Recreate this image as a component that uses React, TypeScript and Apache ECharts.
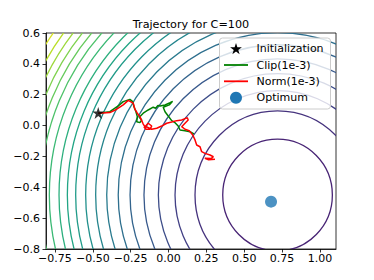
import React, { useEffect, useRef } from "react";
import * as echarts from "echarts";

const chartTitle = "Trajectory for C=100";
const xTicks = [-0.75, -0.5, -0.25, 0, 0.25, 0.5, 0.75, 1.0];
const yTicks = [-0.8, -0.6, -0.4, -0.2, 0, 0.2, 0.4, 0.6];
const xRange = [-0.809, 1.106];
const yRange = [-0.8, 0.6];

const contourCenter = [0.72, -0.45];
const contourRadii = [
  0.362, 0.545, 0.677, 0.787, 0.882, 0.974, 1.052, 1.128, 1.201, 1.267,
  1.333, 1.388, 1.443, 1.507, 1.565, 1.615, 1.662, 1.71, 1.76, 1.815,
];

const initialization = [[-0.464, 0.082]];
const optimum = [[0.677, -0.493]];

const clipPath = [
  [-0.464, 0.08], [-0.387, 0.09], [-0.332, 0.127], [-0.299, 0.155], [-0.255, 0.17],
  [-0.237, 0.155], [-0.228, 0.122], [-0.215, 0.09], [-0.206, 0.058], [-0.21, 0.025],
  [-0.189, 0.019], [-0.177, 0.036], [-0.193, 0.054], [-0.167, 0.08], [-0.134, 0.101],
  [-0.101, 0.119], [-0.085, 0.112], [-0.07, 0.13], [-0.056, 0.127], [-0.023, 0.134],
  [0.01, 0.148], [0.027, 0.157], [0.005, 0.134], [-0.035, 0.119], [-0.023, 0.09],
  [-0.002, 0.062], [0.021, 0.032], [0.043, 0.019], [0.064, -0.003], [0.076, -0.029],
  [0.109, -0.033], [0.142, -0.04], [0.168, -0.054],
];

const normPath = [
  [-0.464, 0.08], [-0.387, 0.084], [-0.342, 0.106], [-0.299, 0.134], [-0.266, 0.163],
  [-0.233, 0.145], [-0.222, 0.106], [-0.206, 0.08], [-0.189, 0.058], [-0.177, 0.032],
  [-0.167, 0.01], [-0.156, -0.007], [-0.134, 0.015], [-0.111, -0.003], [-0.123, -0.024],
  [-0.149, -0.024], [-0.162, -0.009], [-0.14, -0.01], [-0.111, -0.024], [-0.078, -0.017],
  [-0.045, -0.003], [-0.012, 0.015], [0.021, 0.023], [0.054, 0.032], [0.087, 0.036],
  [0.109, 0.045], [0.124, 0.051], [0.13, 0.036], [0.109, 0.015], [0.087, -0.007],
  [0.109, -0.024], [0.137, -0.033], [0.16, -0.061], [0.175, -0.093], [0.186, -0.126],
  [0.208, -0.137], [0.219, -0.169], [0.241, -0.18], [0.274, -0.191], [0.296, -0.202],
  [0.283, -0.213], [0.24, -0.212], [0.265, -0.222], [0.307, -0.218],
];

const legendLabels = ["Initialization", "Clip(1e-3)", "Norm(1e-3)", "Optimum"];

const FONT = "DejaVu Sans";
const viridisStops = [
  "#440154", "#482475", "#414487", "#355f8d", "#2a788e", "#21918c",
  "#22a884", "#44bf70", "#7ad151", "#bddf26", "#fde725",
];
function hexToRgb(h: string) {
  return [parseInt(h.slice(1, 3), 16), parseInt(h.slice(3, 5), 16), parseInt(h.slice(5, 7), 16)];
}
function viridis(t: number) {
  const tt = Math.max(0, Math.min(1, t)) * (viridisStops.length - 1);
  const i = Math.min(Math.floor(tt), viridisStops.length - 2);
  const f = tt - i;
  const a = hexToRgb(viridisStops[i]);
  const b = hexToRgb(viridisStops[i + 1]);
  const c = a.map((v, k) => Math.round(v + (b[k] - v) * f));
  return `rgb(${c[0]},${c[1]},${c[2]})`;
}
function fmt(v: number, d: number) {
  const s = Math.abs(v) < 1e-9 ? (0).toFixed(d) : v.toFixed(d);
  return s.replace("-", "\u2212");
}

const STAR_PATH =
  "path://M0,-1L0.2245,-0.309L0.951,-0.309L0.363,0.118L0.588,0.809L0,0.382L-0.588,0.809L-0.363,0.118L-0.951,-0.309L-0.2245,-0.309Z";

function starPoints(cx: number, cy: number, R: number) {
  const pts: number[][] = [];
  const r = R * 0.382;
  for (let k = 0; k < 10; k++) {
    const ang = -Math.PI / 2 + (k * Math.PI) / 5;
    const rad = k % 2 === 0 ? R : r;
    pts.push([cx + rad * Math.cos(ang), cy + rad * Math.sin(ang)]);
  }
  return pts;
}

export default function App() {
  const ref = useRef<HTMLDivElement>(null);
  useEffect(() => {
    document.body.style.margin = "0";
    const chart = echarts.init(ref.current!, null, { renderer: "svg" });
    const nC = contourRadii.length;
    const axisCommon = {
      type: "value" as const,
      axisLine: { show: true, onZero: false, lineStyle: { color: "#000", width: 0.8 } },
      splitLine: { show: false },
    };
    const legX = 219.5, legY = 38, legW = 111, legH = 71;
    const rowY = [48.7, 65, 81.3, 97.7];
    const handleX = 236;
    const textX = 256.5;
    const option: any = {
      animation: false,
      grid: {
        left: 46, top: 33, width: 290, height: 216,
        show: true, borderColor: "#000", borderWidth: 0.8,
        containLabel: false, outerBoundsMode: "none",
      },
      xAxis: {
        ...axisCommon,
        min: xRange[0], max: xRange[1],
        axisTick: { show: true, customValues: xTicks, length: 3.5, lineStyle: { color: "#000", width: 0.8 } },
        axisLabel: {
          customValues: xTicks, formatter: (v: number) => fmt(v, 2),
          color: "#000", fontSize: 11, fontFamily: FONT, margin: 4,
        },
      },
      yAxis: {
        ...axisCommon,
        min: yRange[0], max: yRange[1],
        axisTick: { show: true, customValues: yTicks, length: 3.5, lineStyle: { color: "#000", width: 0.8 } },
        axisLabel: {
          customValues: yTicks, formatter: (v: number) => fmt(v, 1),
          color: "#000", fontSize: 11, fontFamily: FONT, margin: 6,
        },
      },
      series: [
        {
          type: "custom",
          coordinateSystem: "cartesian2d",
          clip: true,
          silent: true,
          z: 1,
          data: contourRadii.map((r, i) => [contourCenter[0], contourCenter[1], r, i]),
          encode: { x: 0, y: 1 },
          renderItem: (params: any, api: any) => {
            const c = api.coord([api.value(0), api.value(1)]);
            const r = api.value(2);
            const i = api.value(3);
            const s = api.size([r, r]);
            const t = 0.1 + (i * 0.84) / (nC - 1);
            return {
              type: "ellipse",
              shape: { cx: c[0], cy: c[1], rx: s[0], ry: s[1] },
              style: { fill: "none", stroke: viridis(t), lineWidth: 1.3 },
            };
          },
        },
        {
          name: legendLabels[1], type: "line", data: clipPath, showSymbol: false, z: 3,
          lineStyle: { color: "#008000", width: 1.5 }, itemStyle: { color: "#008000" },
        },
        {
          name: legendLabels[2], type: "line", data: normPath, showSymbol: false, z: 4,
          lineStyle: { color: "#ff0000", width: 1.5 }, itemStyle: { color: "#ff0000" },
        },
        {
          name: legendLabels[0], type: "scatter", data: initialization, symbol: STAR_PATH,
          symbolSize: 12, z: 5, itemStyle: { color: "#000" },
        },
        {
          name: legendLabels[3], type: "scatter", data: optimum, symbol: "circle",
          symbolSize: 12, z: 5, itemStyle: { color: "#1f77b4" },
        },
      ],
      graphic: [
        {
          type: "text", z: 100, x: 191, y: 24,
          style: { text: chartTitle, fill: "#000", font: `11.2px ${FONT}`, textAlign: "center", textVerticalAlign: "middle" },
        },
        {
          type: "rect", z: 100,
          shape: { x: legX, y: legY, width: legW, height: legH, r: 3 },
          style: { fill: "rgba(255,255,255,0.8)", stroke: "#cccccc", lineWidth: 1 },
        },
        {
          type: "polygon", z: 101,
          shape: { points: starPoints(handleX, rowY[0] + 0.5, 6.2) },
          style: { fill: "#000" },
        },
        {
          type: "line", z: 101,
          shape: { x1: 224, y1: rowY[1], x2: 248, y2: rowY[1] },
          style: { stroke: "#008000", lineWidth: 1.8 },
        },
        {
          type: "line", z: 101,
          shape: { x1: 224, y1: rowY[2], x2: 248, y2: rowY[2] },
          style: { stroke: "#ff0000", lineWidth: 1.8 },
        },
        {
          type: "circle", z: 101,
          shape: { cx: handleX, cy: rowY[3], r: 6 },
          style: { fill: "#1f77b4" },
        },
        ...legendLabels.map((lab, i) => ({
          type: "text", z: 101, x: textX, y: rowY[i],
          style: { text: lab, fill: "#000", font: `11px ${FONT}`, textAlign: "left", textVerticalAlign: "middle" },
        })),
      ],
    };
    chart.setOption(option);
    return () => chart.dispose();
  }, []);
  return <div ref={ref} style={{ position: "absolute", left: 0, top: 0, width: 374, height: 280 }} />;
}
